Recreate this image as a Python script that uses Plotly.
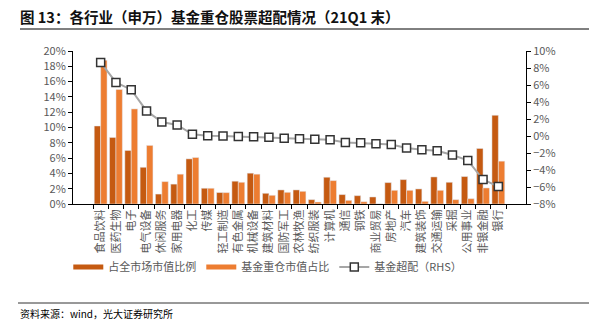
import plotly.graph_objects as go

categories = ["食品饮料", "医药生物", "电子", "电气设备", "休闲服务", "家用电器", "化工", "传媒",
              "轻工制造", "有色金属", "机械设备", "建筑材料", "国防军工", "农林牧渔", "纺织服装",
              "计算机", "通信", "钢铁", "商业贸易", "房地产", "汽车", "建筑装饰", "交通运输",
              "采掘", "公用事业", "非银金融", "银行"]
market_share = [10.2, 8.7, 7.0, 4.8, 1.3, 2.6, 5.9, 2.06, 1.5, 2.98, 4.03, 1.4, 1.84, 1.84, 0.57,
                3.5, 1.23, 1.09, 0.92, 2.8, 3.19, 1.97, 3.54, 2.84, 3.59, 7.26, 11.6]
fund_share = [18.8, 14.97, 12.43, 7.66, 2.93, 3.9, 6.08, 2.06, 1.49, 2.84, 3.9, 1.14, 1.53, 1.66, 0.26,
              3.06, 0.48, 0.3, 0.02, 1.79, 1.79, 0.35, 1.79, 0.57, 0.7, 2.1, 5.6]
overweight = [8.65, 6.3, 5.45, 2.95, 1.65, 1.3, 0.2, 0.04, 0.0, -0.05, -0.08, -0.15, -0.25, -0.32, -0.38,
              -0.45, -0.75, -0.8, -0.9, -1.0, -1.42, -1.61, -1.73, -2.24, -2.87, -5.12, -5.95]

DARK = "#C55A11"
LIGHT = "#ED7D31"
FONT = "Noto Sans CJK SC"

fig = go.Figure()
fig.add_trace(go.Bar(x=categories, y=market_share, name="占全市场市值比例", marker_color=DARK,
                     showlegend=False))
fig.add_trace(go.Bar(x=categories, y=fund_share, name="基金重仓市值占比", marker_color=LIGHT,
                     showlegend=False))
# legend proxies with wide swatches
fig.add_trace(go.Scatter(x=[None], y=[None], mode="lines", name="占全市场市值比例",
                         line=dict(color=DARK, width=5)))
fig.add_trace(go.Scatter(x=[None], y=[None], mode="lines", name="基金重仓市值占比",
                         line=dict(color=LIGHT, width=5)))
fig.add_trace(go.Scatter(x=categories, y=overweight, name="基金超配（RHS）", yaxis="y2",
                         mode="lines+markers",
                         line=dict(color="#A6A6A6", width=2),
                         marker=dict(symbol="square", size=8, color="white",
                                     line=dict(color="#333333", width=1.5))))

def px2x(px):
    return (px - 73) / 453.0

def py2y(py):
    return (204 - py) / 153.0

fig.update_layout(
    width=589, height=326,
    margin=dict(l=73, r=63, t=51, b=122),
    paper_bgcolor="white", plot_bgcolor="white",
    font=dict(family=FONT, color="#595959", size=11),
    barmode="group", bargap=0.16, bargroupgap=0,
    showlegend=True,
    legend=dict(orientation="h", x=0.43, xanchor="center", y=py2y(267), yanchor="middle",
                font=dict(size=11, color="#595959"), itemwidth=30, traceorder="normal"),
    title=dict(text="<b>图 13：各行业（申万）基金重仓股票超配情况（21Q1 末）</b>",
               x=20 / 589, xanchor="left", xref="container",
               y=1 - 18 / 326, yanchor="middle", yref="container",
               font=dict(size=14.5, color="#111111", family=FONT)),
    xaxis=dict(tickangle=-90, showline=True, linecolor="#000000", linewidth=1,
               ticks="outside", ticklen=4, tickcolor="#000000", tickson="boundaries",
               tickfont=dict(size=11, color="#595959"), showgrid=False),
    yaxis=dict(range=[0, 20], dtick=2, ticksuffix="%", showline=True, linecolor="#000000",
               linewidth=1, ticks="outside", ticklen=4, tickcolor="#000000", showgrid=False,
               zeroline=False, tickfont=dict(size=11, color="#595959")),
    yaxis2=dict(range=[-8, 10], dtick=2, ticksuffix="%", overlaying="y", side="right",
                showline=True, linecolor="#000000", linewidth=1, ticks="outside", ticklen=4,
                tickcolor="#000000", showgrid=False, zeroline=False,
                tickfont=dict(size=11, color="#595959")),
    shapes=[
        dict(type="line", xref="paper", yref="paper", x0=px2x(20), x1=px2x(589),
             y0=py2y(29), y1=py2y(29), line=dict(color="#000000", width=1)),
        dict(type="line", xref="paper", yref="paper", x0=px2x(18), x1=px2x(589),
             y0=py2y(303), y1=py2y(303), line=dict(color="#333333", width=1)),
    ],
    annotations=[
        dict(text="资料来源：wind，光大证券研究所", xref="paper", yref="paper",
             x=px2x(18), y=py2y(313), xanchor="left", yanchor="middle", showarrow=False,
             font=dict(size=10, color="#000000", family=FONT)),
    ],
)

fig.write_html("out.html")
